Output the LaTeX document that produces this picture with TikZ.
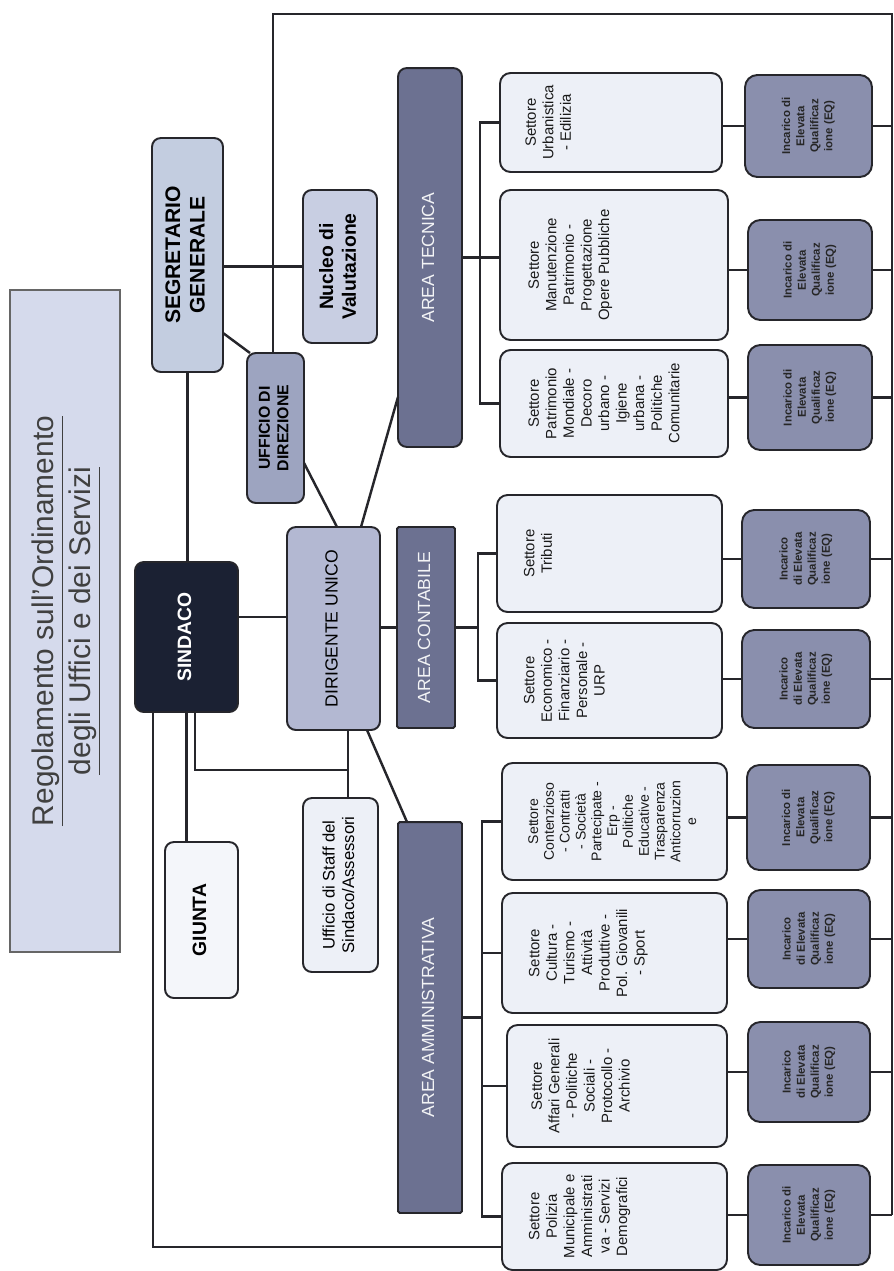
\documentclass[tikz,border=0pt]{standalone}
\usepackage{fontspec}
\setmainfont{Liberation Sans}
\usepackage{graphicx}

\definecolor{titlefill}{HTML}{D5DAEC}
\definecolor{navy}{HTML}{1B2133}
\definecolor{segrfill}{HTML}{C3CDE0}
\definecolor{nucfill}{HTML}{C8CEE2}
\definecolor{uffill}{HTML}{9DA4C0}
\definecolor{dirfill}{HTML}{B3B8D2}
\definecolor{areafill}{HTML}{6C7191}
\definecolor{setfill}{HTML}{EDF0F7}
\definecolor{eqfill}{HTML}{8A8FAD}
\definecolor{inkline}{HTML}{26262B}

% text set upright, read from bottom to top
\newcommand{\vtext}[1]{\rotatebox{90}{\begin{tabular}{@{}c@{}}#1\end{tabular}}}
\newcommand{\settext}[1]{\rotatebox{90}{\vbox to 4.4cm{\vskip 0.45cm\hbox{\begin{tabular}{@{}c@{}}#1\end{tabular}}\vfill}}}

\begin{document}
\begin{tikzpicture}[x=0.02cm, y=-0.02cm,
  every node/.style={inner sep=0pt, outer sep=0pt},
  box/.style={draw=inkline, line width=1.1pt, rounded corners=5pt},
  head/.style={box, fill=segrfill, font=\fontsize{12}{14}\selectfont\bfseries},
  area/.style={box, fill=areafill, text=white!92!areafill, rounded corners=1pt,
    font=\fontsize{10}{12}\selectfont},
  sector/.style={box, fill=setfill, rounded corners=6pt, text=black!90,
    font=\fontsize{8.5}{10}\selectfont},
  eq/.style={box, fill=eqfill, rounded corners=7pt, text=black!85,
    font=\fontsize{6.5}{8}\selectfont\bfseries},
  link/.style={draw=inkline, line width=1.4pt}]
  \useasboundingbox (0,0) rectangle (893,1271);

  % title and top level
  \node[box, draw=gray!80!black, line width=0.8pt, rounded corners=0pt, fill=titlefill,
    text=black!75, font=\fontsize{17}{21}\selectfont, minimum width=2.2cm,
    minimum height=13.24cm] (title) at (65,621)
    {\vtext{\underline{Regolamento sull'Ordinamento}\\\underline{degli Uffici e dei Servizi}}};
  \node[head, minimum width=1.42cm, minimum height=4.68cm] (segr) at (187.5,255)
    {\vtext{SEGRETARIO\\GENERALE}};
  \node[box, fill=navy, text=white, font=\fontsize{11}{13}\selectfont\bfseries,
    minimum width=2.06cm, minimum height=3cm] (sindaco) at (186.5,637) {\vtext{SINDACO}};
  \node[box, fill=setfill!60!white, font=\fontsize{11}{13}\selectfont\bfseries,
    minimum width=1.46cm, minimum height=3.12cm] (giunta) at (201.5,920) {\vtext{GIUNTA}};
  \node[box, fill=nucfill, font=\fontsize{11}{13}\selectfont\bfseries,
    minimum width=1.48cm, minimum height=3.06cm] (nucleo) at (340,266.5)
    {\vtext{Nucleo di\\Valutazione}};
  \node[box, fill=uffill, font=\fontsize{9}{10.5}\selectfont\bfseries,
    minimum width=1.14cm, minimum height=3cm] (ufficio) at (275.5,428)
    {\vtext{UFFICIO DI\\DIREZIONE}};
  \node[box, fill=dirfill, font=\fontsize{10}{12}\selectfont,
    minimum width=1.86cm, minimum height=4.06cm] (dirig) at (333.5,628.5)
    {\vtext{DIRIGENTE UNICO}};
  \node[box, fill=setfill, font=\fontsize{9.5}{11}\selectfont,
    minimum width=1.5cm, minimum height=3.48cm] (staff) at (340.5,885)
    {\vtext{Ufficio di Staff del\\Sindaco/Assessori}};

  % areas
  \node[area, rounded corners=5pt, minimum width=1.28cm, minimum height=7.58cm] (tecnica)
    at (430,257.5) {\vtext{AREA TECNICA}};
  \node[area, minimum width=1.16cm, minimum height=4.02cm] (contab)
    at (426,627.5) {\vtext{AREA CONTABILE}};
  \node[area, minimum width=1.28cm, minimum height=7.82cm] (amm)
    at (430,1017.5) {\vtext{AREA AMMINISTRATIVA}};

  % settori
  \node[sector, minimum width=4.44cm, minimum height=1.98cm] (urb) at (611,122.5)
    {\settext{Settore\\Urbanistica\\- Edilizia}};
  \node[sector, minimum width=4.56cm, minimum height=3cm] (man) at (614,265)
    {\settext{Settore\\Manutenzione\\Patrimonio -\\Progettazione\\Opere Pubbliche}};
  \node[sector, minimum width=4.56cm, minimum height=2.14cm] (pat) at (614,403.5)
    {\settext{Settore\\Patrimonio\\Mondiale -\\Decoro\\urbano -\\Igiene\\urbana -\\Politiche\\Comunitarie}};
  \node[sector, minimum width=4.5cm, minimum height=2.34cm] (trib) at (609.5,553.5)
    {\settext{Settore\\Tributi}};
  \node[sector, minimum width=4.5cm, minimum height=2.3cm] (eco) at (609.5,680.5)
    {\settext{Settore\\Economico -\\Finanziario -\\Personale -\\URP}};
  \node[sector, font=\fontsize{8}{9}\selectfont, minimum width=4.5cm,
    minimum height=2.34cm] (cont) at (614.5,821.5)
    {\settext{Settore\\Contenzioso\\- Contratti\\- Società\\Partecipate -\\Erp -\\Politiche\\Educative -\\Trasparenza\\Anticorruzion\\e}};
  \node[sector, minimum width=4.5cm, minimum height=2.4cm] (cult) at (614.5,953)
    {\settext{Settore\\Cultura -\\Turismo -\\Attività\\Produttive -\\Pol. Giovanili\\- Sport}};
  \node[sector, minimum width=4.4cm, minimum height=2.44cm] (aff) at (617,1086)
    {\settext{Settore\\Affari Generali\\- Politiche\\Sociali -\\Protocollo -\\Archivio}};
  \node[sector, minimum width=4.5cm, minimum height=2.14cm] (pol) at (614.5,1216.5)
    {\settext{Settore\\Polizia\\Municipale e\\Amministrati\\va - Servizi\\Demografici}};

  % incarichi EQ
  \node[eq, minimum width=2.54cm, minimum height=2.04cm] (inc1) at (808.5,126)
    {\vtext{Incarico di\\Elevata\\Qualificaz\\ione (EQ)}};
  \node[eq, minimum width=2.48cm, minimum height=2cm] (inc2) at (810,270)
    {\vtext{Incarico di\\Elevata\\Qualificaz\\ione (EQ)}};
  \node[eq, minimum width=2.48cm, minimum height=2.1cm] (inc3) at (810,397.5)
    {\vtext{Incarico di\\Elevata\\Qualificaz\\ione (EQ)}};
  \node[eq, minimum width=2.56cm, minimum height=1.96cm] (inc4) at (806,559)
    {\vtext{Incarico\\di Elevata\\Qualificaz\\ione (EQ)}};
  \node[eq, minimum width=2.56cm, minimum height=1.96cm] (inc5) at (806,679)
    {\vtext{Incarico\\di Elevata\\Qualificaz\\ione (EQ)}};
  \node[eq, minimum width=2.46cm, minimum height=2.1cm] (inc6) at (808.5,817.5)
    {\vtext{Incarico di\\Elevata\\Qualificaz\\ione (EQ)}};
  \node[eq, minimum width=2.44cm, minimum height=1.96cm] (inc7) at (809,939)
    {\vtext{Incarico\\di Elevata\\Qualificaz\\ione (EQ)}};
  \node[eq, minimum width=2.44cm, minimum height=2cm] (inc8) at (809,1072)
    {\vtext{Incarico\\di Elevata\\Qualificaz\\ione (EQ)}};
  \node[eq, minimum width=2.44cm, minimum height=2cm] (inc9) at (809,1215)
    {\vtext{Incarico di\\Elevata\\Qualificaz\\ione (EQ)}};

  % connectors
  \coordinate (tl) at (273,14);
  \coordinate (tr) at (892,14);
  \coordinate (sj) at (348,770);
  \draw[link] (segr.south) -- (segr.south |- sindaco.north);
  \draw[link] (nucleo.west -| segr.east) -- (nucleo.west);
  \draw[link] ([yshift=0.78cm]segr.south east) -- ([xshift=0.06cm]ufficio.north west);
  \draw[link] (ufficio.north -| tl) -- (tl) -- (tr) -- (tr |- inc9.east);
  \draw[link] ([yshift=0.8cm]ufficio.south east) -- ([xshift=0.07cm]dirig.north);
  \draw[link] ([xshift=0.55cm]dirig.north) -- ([yshift=1cm]tecnica.south west);
  \draw[link] ([yshift=0.4cm]sindaco.east) -- ([yshift=0.4cm]sindaco.east -| dirig.west);
  \draw[link] (contab.west -| dirig.east) -- (contab.west);
  \draw[link] ([xshift=0.67cm]dirig.south) -- ([xshift=-0.46cm]amm.north);
  \draw[link] (sj |- dirig.south) -- (sj |- staff.north);
  \draw[link] ([xshift=0.17cm]sindaco.south) |- (sj);
  \draw[link] (sindaco.south) -- (sindaco.south |- giunta.north);
  \draw[link] ([xshift=-0.67cm]sindaco.south) |- ([yshift=-0.61cm]pol.west);

  \draw[link] (tecnica.east) -- (tecnica.east -| man.west);
  \draw[link] (urb.west) -- ++(-20,0) |- (pat.west);
  \draw[link] (contab.east) -- ++(23,0);
  \draw[link] (trib.west) -- ++(-19,0) |- (eco.west);
  \draw[link] (amm.east) -- ++(20,0);
  \draw[link] (cont.west) -- ++(-20,0) |- (pol.west);
  \draw[link] (cult.west) -- ++(-20,0);
  \draw[link] (aff.west) -- ++(-25,0);

  \draw[link] (inc1.west -| urb.east) -- (inc1.west);
  \draw[link] (inc2.west -| man.east) -- (inc2.west);
  \draw[link] (inc3.west -| pat.east) -- (inc3.west);
  \draw[link] (inc4.west -| trib.east) -- (inc4.west);
  \draw[link] (inc5.west -| eco.east) -- (inc5.west);
  \draw[link] (inc6.west -| cont.east) -- (inc6.west);
  \draw[link] (inc7.west -| cult.east) -- (inc7.west);
  \draw[link] (inc8.west -| aff.east) -- (inc8.west);
  \draw[link] (inc9.west -| pol.east) -- (inc9.west);

  \draw[link] (inc1.east) -- (inc1.east -| tr);
  \draw[link] (inc2.east) -- (inc2.east -| tr);
  \draw[link] (inc3.east) -- (inc3.east -| tr);
  \draw[link] (inc4.east) -- (inc4.east -| tr);
  \draw[link] (inc5.east) -- (inc5.east -| tr);
  \draw[link] (inc6.east) -- (inc6.east -| tr);
  \draw[link] (inc7.east) -- (inc7.east -| tr);
  \draw[link] (inc8.east) -- (inc8.east -| tr);
  \draw[link] (inc9.east) -- (inc9.east -| tr);
\end{tikzpicture}
\end{document}
